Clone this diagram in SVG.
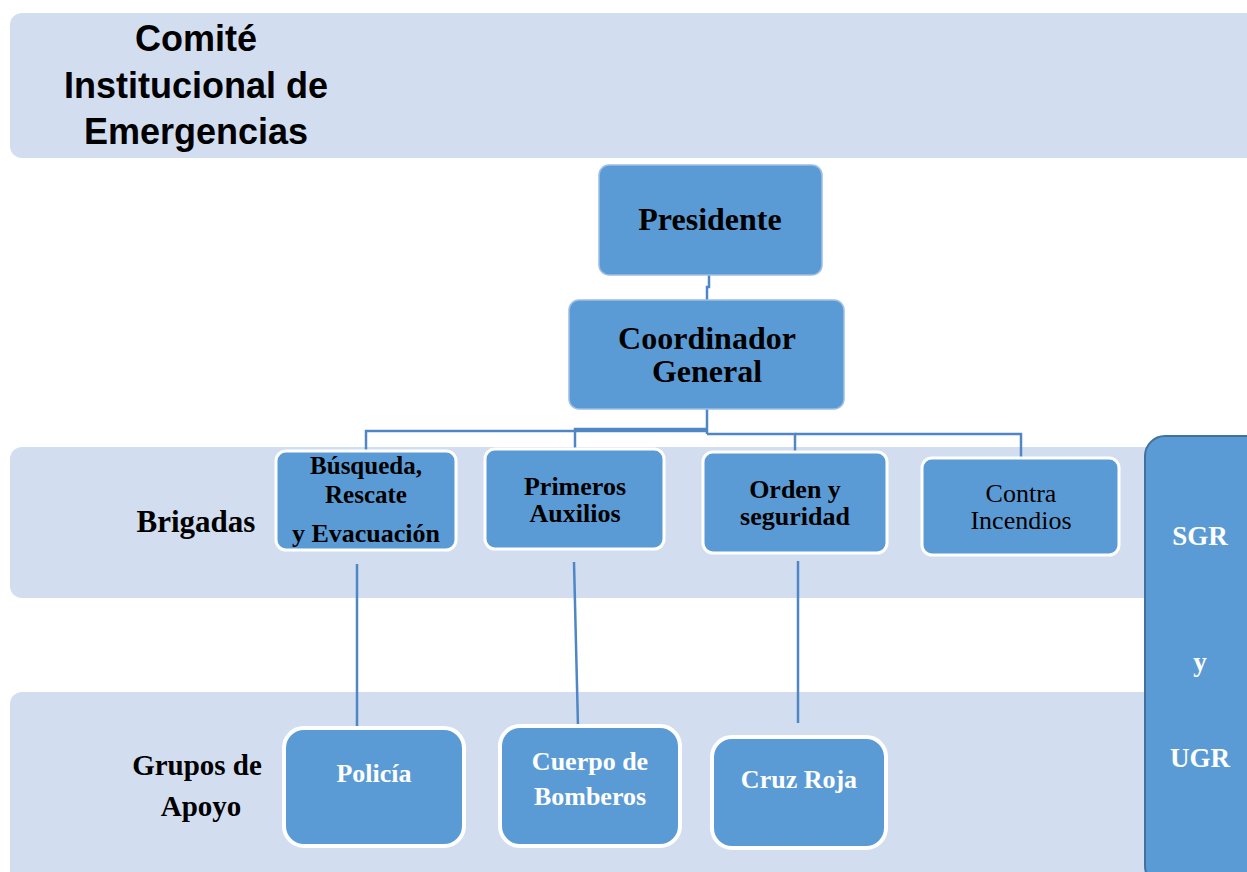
<svg xmlns="http://www.w3.org/2000/svg" width="1247" height="872" viewBox="0 0 1247 872">
<style>
.band{fill:#D2DEEF}
.top{fill:#5B9BD5;stroke:#9DBFE6;stroke-width:1.5}
.brig{fill:#5B9BD5;stroke:#FFFFFF;stroke-width:3}
.grp{fill:#5B9BD5;stroke:#FFFFFF;stroke-width:4}
.side{fill:#5B9BD5;stroke:#41719C;stroke-width:2}
.conn{fill:none;stroke:#4F86C6;stroke-width:2.5}
.t{font-family:"Liberation Serif","Times New Roman",serif;font-weight:bold;text-anchor:middle;fill:#000}
.tw{font-family:"Liberation Serif","Times New Roman",serif;font-weight:bold;text-anchor:middle;fill:#FFFFFF}
.tr{font-family:"Liberation Serif","Times New Roman",serif;text-anchor:middle;fill:#000}
.title{font-family:"Liberation Sans",Arial,sans-serif;font-weight:bold;text-anchor:middle;fill:#000;font-size:36px}
</style>
<g id="bands">
<rect class="band" x="10" y="13" width="1260" height="145" rx="12"/>
<rect class="band" x="10" y="447" width="1160" height="151" rx="12"/>
<rect class="band" x="10" y="692" width="1160" height="200" rx="12"/>
</g>
<g id="title">
<text class="title" x="196" y="51">Comité</text>
<text class="title" x="196" y="98">Institucional de</text>
<text class="title" x="196" y="144">Emergencias</text>
</g>
<g id="label-brigadas"><text class="t" x="196" y="532" font-size="31">Brigadas</text></g>
<g id="label-grupos">
<text class="t" x="197" y="775" font-size="29">Grupos de</text>
<text class="t" x="201" y="816" font-size="29">Apoyo</text>
</g>
<g id="connectors">
<path class="conn" d="M709,275 V287 H707 V300"/>
<path class="conn" d="M707,409 V434"/>
<path class="conn" d="M366,452 V431 H707"/>
<path class="conn" d="M575,450 V429 H707"/>
<path class="conn" d="M707,434 H795 V452"/>
<path class="conn" d="M795,434 H1021 V458"/>
<path class="conn" d="M357,564 V728"/>
<path class="conn" d="M574,562 L578,727"/>
<path class="conn" d="M798,561 V723"/>
</g>
<g id="presidente">
<rect class="top" x="599" y="165" width="223" height="110" rx="10"/>
<text class="t" x="710" y="230" font-size="32">Presidente</text>
</g>
<g id="coordinador">
<rect class="top" x="569" y="300" width="275" height="109" rx="10"/>
<text class="t" x="707" y="349" font-size="32">Coordinador</text>
<text class="t" x="707" y="382" font-size="32">General</text>
</g>
<g id="busqueda">
<rect class="brig" x="276" y="451" width="180" height="99" rx="10"/>
<text class="t" x="366" y="474" font-size="25">Búsqueda,</text>
<text class="t" x="366" y="503" font-size="25">Rescate</text>
<text class="t" x="366" y="542" font-size="26">y Evacuación</text>
</g>
<g id="primeros">
<rect class="brig" x="485" y="449" width="179" height="100" rx="10"/>
<text class="t" x="575" y="495" font-size="26">Primeros</text>
<text class="t" x="575" y="522" font-size="26">Auxilios</text>
</g>
<g id="orden">
<rect class="brig" x="703" y="452" width="184" height="101" rx="10"/>
<text class="t" x="795" y="498" font-size="26">Orden y</text>
<text class="t" x="795" y="525" font-size="26">seguridad</text>
</g>
<g id="contra">
<rect class="brig" x="922" y="458" width="197" height="97" rx="10"/>
<text class="tr" x="1021" y="502" font-size="26">Contra</text>
<text class="tr" x="1021" y="529" font-size="26">Incendios</text>
</g>
<g id="policia">
<rect class="grp" x="284" y="728" width="180" height="118" rx="20"/>
<text class="tw" x="374" y="782" font-size="26">Policía</text>
</g>
<g id="bomberos">
<rect class="grp" x="500" y="726" width="180" height="120" rx="20"/>
<text class="tw" x="590" y="770" font-size="26">Cuerpo de</text>
<text class="tw" x="590" y="805" font-size="26">Bomberos</text>
</g>
<g id="cruzroja">
<rect class="grp" x="712" y="737" width="174" height="111" rx="20"/>
<text class="tw" x="799" y="788" font-size="26">Cruz Roja</text>
</g>
<g id="sgr">
<rect class="side" x="1145" y="436" width="130" height="450" rx="20"/>
<text class="tw" x="1200" y="545" font-size="27">SGR</text>
<text class="tw" x="1200" y="671" font-size="27">y</text>
<text class="tw" x="1200" y="767" font-size="27">UGR</text>
</g>
</svg>
